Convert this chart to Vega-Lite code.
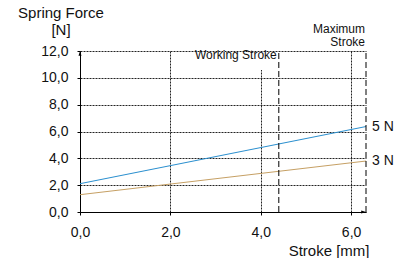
{
  "$schema": "https://vega.github.io/schema/vega-lite/v6.json",
  "width": 286,
  "height": 161,
  "autosize": {"type": "none"},
  "padding": {"left": 80, "top": 51, "right": 39, "bottom": 46},
  "config": {
    "font": "Liberation Sans",
    "view": {"stroke": null},
    "axis": {
      "labelFontSize": 14,
      "labelColor": "#111111",
      "labelOverlap": false,
      "titleFontSize": 15,
      "titleFontWeight": "normal",
      "titleColor": "#111111",
      "domainColor": "#000000",
      "domainWidth": 1,
      "tickColor": "#000000",
      "tickSize": 3,
      "gridColor": "#222222",
      "gridDash": [2, 1],
      "gridWidth": 1,
      "gridOpacity": 1
    }
  },
  "datasets": {
    "springs": [
      {"spring": "5 N", "stroke": 0, "force": 2.11},
      {"spring": "5 N", "stroke": 6.33, "force": 6.37},
      {"spring": "3 N", "stroke": 0, "force": 1.29},
      {"spring": "3 N", "stroke": 6.33, "force": 3.8}
    ],
    "endLabels": [
      {"spring": "5 N", "stroke": 6.33, "force": 6.37},
      {"spring": "3 N", "stroke": 6.33, "force": 3.8}
    ],
    "limitRules": [
      {"stroke": 4.4, "force": 0, "force2": 12},
      {"stroke": 6.33, "force": 0, "force2": 12}
    ],
    "limitText": [
      {"name": "Working Stroke", "stroke": 4.4, "force": 12},
      {"name": "Maximum\nStroke", "stroke": 6.33, "force": 12}
    ],
    "box": [
      {"stroke": 2.08, "stroke2": 4.38, "force": 10.58, "force2": 11.93}
    ]
  },
  "encoding": {
    "x": {
      "field": "stroke",
      "type": "quantitative",
      "scale": {"domain": [0, 6.33], "nice": false, "zero": false},
      "axis": {
        "values": [0, 2, 4, 6],
        "labelExpr": "replace(format(datum.value, '.1f'), '.', ',')",
        "labelPadding": 10,
        "labelFlush": false,
        "title": "Stroke [mm]",
        "titleAlign": "right",
        "titleAnchor": "end",
        "titleX": 289,
        "titleY": 43,
        "titleBaseline": "alphabetic"
      }
    },
    "y": {
      "field": "force",
      "type": "quantitative",
      "scale": {"domain": [0, 12], "nice": false},
      "axis": {
        "values": [0, 2, 4, 6, 8, 10, 12],
        "labelExpr": "replace(format(datum.value, '.1f'), '.', ',')",
        "labelPadding": 9,
        "labelFlush": false,
        "title": ["Spring Force", "[N]"],
        "titleAngle": 0,
        "titleAlign": "center",
        "titleBaseline": "alphabetic",
        "titleX": -19.5,
        "titleY": -33.3,
        "titleLineHeight": 16.6
      }
    }
  },
  "layer": [
    {
      "data": {"name": "springs"},
      "mark": {"type": "line", "strokeWidth": 1},
      "encoding": {
        "color": {
          "field": "spring",
          "type": "nominal",
          "scale": {"domain": ["5 N", "3 N"], "range": ["#2a8fcf", "#c6a064"]},
          "legend": null
        },
        "detail": {"field": "spring"}
      }
    },
    {
      "data": {"name": "box"},
      "mark": {"type": "rect", "fill": "#ffffff", "stroke": null},
      "encoding": {
        "x2": {"field": "stroke2"},
        "y2": {"field": "force2"}
      }
    },
    {
      "data": {"name": "limitRules"},
      "mark": {"type": "rule", "color": "#000000", "strokeWidth": 1, "strokeDash": [6, 3]},
      "encoding": {
        "y2": {"field": "force2"}
      }
    },
    {
      "data": {"name": "limitText"},
      "transform": [{"filter": "datum.stroke < 5"}],
      "mark": {"type": "text", "align": "right", "baseline": "alphabetic", "dx": -2, "dy": 8, "fontSize": 12, "color": "#111111"},
      "encoding": {
        "text": {"field": "name"}
      }
    },
    {
      "data": {"name": "limitText"},
      "transform": [{"filter": "datum.stroke > 5"}],
      "mark": {"type": "text", "align": "right", "baseline": "alphabetic", "dx": -1, "dy": -18.3, "lineBreak": "\n", "lineHeight": 13.3, "fontSize": 12, "color": "#111111"},
      "encoding": {
        "text": {"field": "name"}
      }
    },
    {
      "data": {"name": "endLabels"},
      "mark": {"type": "text", "align": "left", "baseline": "middle", "dx": 6, "fontSize": 14, "color": "#111111"},
      "encoding": {
        "text": {"field": "spring"}
      }
    },
    {
      "data": {"values": [{"stroke": 0, "force": 12}]},
      "mark": {"type": "point", "filled": true, "color": "#000000", "opacity": 1, "size": 36, "shape": "M0,0L-0.5,1.6L0.5,1.6Z"}
    },
    {
      "data": {"values": [{"stroke": 6.33, "force": 0}]},
      "mark": {"type": "point", "filled": true, "color": "#000000", "opacity": 1, "size": 36, "shape": "M0,0L-1.6,-0.5L-1.6,0.5Z"}
    }
  ]
}
